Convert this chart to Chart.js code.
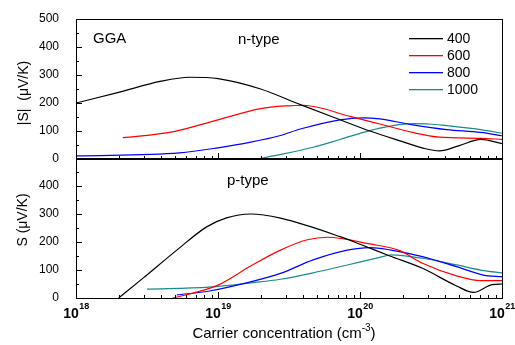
<!DOCTYPE html>
<html>
<head>
<meta charset="utf-8">
<script src="https://cdn.jsdelivr.net/npm/chart.js@4.4.0/dist/chart.umd.min.js"></script>
<style>
    body { margin: 0; background: #fff; }
    #wrap { position: relative; width: 515px; height: 345px; }
    canvas { position: absolute; left: 0; top: 0; }
</style>
</head>
<body>
<div id="wrap">
    <canvas id="nChart" width="515" height="345"></canvas>
    <canvas id="pChart" width="515" height="345"></canvas>
</div>
<script>
// temperatures (K)
const temps = ['400', '600', '800', '1000'];
const colors = ['#000000', '#ff0000', '#0000ff', '#1a8a8a'];

// carrier concentration given as log10(n), Seebeck in uV/K
// n-type
const n400x = [18.0, 18.3, 18.6, 18.8, 19.0, 19.3, 19.58, 19.86, 20.07, 20.3, 20.45, 20.56, 20.7, 20.85, 21.0];
const n400y = [200, 238, 278, 292, 287, 250, 194, 140, 100, 62, 38, 29, 48, 70, 55];
const n600x = [18.33, 18.68, 19.0, 19.3, 19.49, 19.6, 19.93, 20.14, 20.37, 20.56, 20.85, 21.0];
const n600y = [76, 97, 140, 180, 190, 192, 152, 125, 95, 78, 74, 70];
const n800x = [18.0, 18.73, 19.0, 19.23, 19.44, 19.58, 19.86, 20.02, 20.14, 20.37, 20.61, 20.85, 21.0];
const n800y = [11, 22, 40, 60, 84, 107, 140, 147, 143, 122, 105, 95, 83];
const n1000x = [19.28, 19.46, 19.67, 19.81, 19.91, 20.14, 20.37, 20.49, 20.61, 20.85, 21.0];
const n1000y = [0, 18, 42, 62, 78, 110, 126, 125, 119, 105, 92];

// p-type
const p400x = [18.3, 18.47, 18.71, 18.92, 19.06, 19.23, 19.44, 19.86, 20.0, 20.21, 20.44, 20.68, 20.8, 20.93, 21.0];
const p400y = [0, 70, 171, 254, 286, 300, 285, 219, 192, 150, 106, 43, 20, 48, 50];
const p600x = [18.68, 18.82, 19.0, 19.23, 19.44, 19.63, 19.77, 20.07, 20.28, 20.44, 20.68, 20.85, 21.0];
const p600y = [0, 17, 46, 114, 171, 208, 217, 193, 169, 124, 79, 62, 62];
const p800x = [18.71, 18.94, 19.2, 19.44, 19.67, 19.91, 20.07, 20.21, 20.44, 20.68, 20.87, 21.0];
const p800y = [11, 25, 54, 88, 136, 171, 180, 172, 148, 112, 82, 76];
const p1000x = [18.5, 18.94, 19.23, 19.44, 19.67, 19.91, 20.14, 20.22, 20.44, 20.68, 20.87, 21.0];
const p1000y = [32, 39, 54, 67, 90, 118, 145, 154, 142, 118, 98, 90];

const yTicks = [0, 100, 200, 300, 400, 500];
const xDecades = [18, 19, 20, 21];

function pts(xs, ys) {
    return xs.map((e, i) => ({ x: Math.pow(10, e), y: ys[i] }));
}

function makeSets(list) {
    return list.map((s, i) => ({
        label: temps[i],
        data: pts(s[0], s[1]),
        borderColor: colors[i],
        borderWidth: 1.2,
        pointRadius: 0,
        fill: false,
        cubicInterpolationMode: 'monotone'
    }));
}

const FONT = '"Liberation Sans", Arial, sans-serif';

// frame + inside tick marks
function drawFrame(chart) {
    const ctx = chart.ctx;
    const a = chart.chartArea;
    const xs = chart.scales.x;
    const ys = chart.scales.y;
    ctx.save();
    ctx.strokeStyle = '#000';
    ctx.lineWidth = 1;
    ctx.strokeRect(Math.round(a.left) + 0.5, Math.round(a.top) + 0.5,
        Math.round(a.right - a.left), Math.round(a.bottom - a.top));
    ctx.beginPath();
    for (let d = 18; d <= 20; d++) {
        for (let m = 1; m <= 9; m++) {
            const px = Math.round(xs.getPixelForValue(m * Math.pow(10, d))) + 0.5;
            const len = m === 1 ? 6 : 3;
            ctx.moveTo(px, a.bottom);
            ctx.lineTo(px, a.bottom - len);
        }
    }
    for (let v = 0; v <= 500; v += 50) {
        const py = Math.round(ys.getPixelForValue(v)) + 0.5;
        const len = v % 100 === 0 ? 6 : 3;
        ctx.moveTo(a.left, py);
        ctx.lineTo(a.left + len, py);
    }
    ctx.stroke();
    ctx.restore();
}

function yTitle(ctx, text, cx, cy) {
    ctx.save();
    ctx.translate(cx, cy);
    ctx.rotate(-Math.PI / 2);
    ctx.font = '14px ' + FONT;
    ctx.fillStyle = '#000';
    ctx.textAlign = 'center';
    ctx.textBaseline = 'middle';
    ctx.fillText(text, 0, 0);
    ctx.restore();
}

const topDecor = {
    id: 'topDecor',
    afterDraw(chart) {
        drawFrame(chart);
        const ctx = chart.ctx;
        ctx.save();
        ctx.fillStyle = '#000';
        ctx.textBaseline = 'middle';
        ctx.font = '15px ' + FONT;
        ctx.fillText('GGA', 93, 39);
        ctx.fillText('n-type', 238, 40);
        // legend
        ctx.font = '14px ' + FONT;
        temps.forEach((t, i) => {
            const y = 38 + i * 17;
            ctx.fillStyle = colors[i];
            ctx.fillRect(409, y, 34, 1.3);
            ctx.fillStyle = '#000';
            ctx.fillText(t, 447, y + 1);
        });
        ctx.restore();
        yTitle(ctx, '|S|  (\u03bcV/K)', 24, 93);
    }
};

const bottomDecor = {
    id: 'bottomDecor',
    afterDraw(chart) {
        drawFrame(chart);
        const ctx = chart.ctx;
        const xs = chart.scales.x;
        ctx.save();
        ctx.fillStyle = '#000';
        ctx.textBaseline = 'middle';
        ctx.font = '15px ' + FONT;
        ctx.fillText('p-type', 227, 181);
        // x tick labels 10^n
        xDecades.forEach(d => {
            const px = xs.getPixelForValue(Math.pow(10, d));
            ctx.font = 'bold 14px ' + FONT;
            const w1 = ctx.measureText('10').width;
            ctx.font = 'bold 9px ' + FONT;
            const w2 = ctx.measureText(String(d)).width;
            const x0 = px - (w1 + w2) / 2;
            ctx.font = 'bold 14px ' + FONT;
            ctx.fillText('10', x0, 314);
            ctx.font = 'bold 9px ' + FONT;
            ctx.fillText(String(d), x0 + w1 + 0.5, 307);
        });
        // x title
        ctx.font = '15px ' + FONT;
        const a = 'Carrier concentration (cm';
        const wa = ctx.measureText(a).width;
        ctx.font = '10px ' + FONT;
        const wb = ctx.measureText('-3').width;
        ctx.font = '15px ' + FONT;
        const wc = ctx.measureText(')').width;
        let x = 284 - (wa + wb + wc) / 2;
        ctx.fillText(a, x, 334);
        ctx.font = '10px ' + FONT;
        ctx.fillText('-3', x + wa, 328);
        ctx.font = '15px ' + FONT;
        ctx.fillText(')', x + wa + wb, 334);
        ctx.restore();
        yTitle(ctx, 'S (\u03bcV/K)', 23, 220);
    }
};

function makeChart(id, sets, padding, hide500, plugin) {
    return new Chart(document.getElementById(id), {
        type: 'line',
        data: { datasets: makeSets(sets) },
        options: {
            responsive: false,
            animation: false,
            layout: { padding: padding },
            plugins: { legend: { display: false }, tooltip: { enabled: false } },
            scales: {
                x: {
                    type: 'logarithmic',
                    min: 1e18,
                    max: 1e21,
                    display: false
                },
                y: {
                    min: 0,
                    max: 500,
                    afterFit: s => { s.width = 76; },
                    afterBuildTicks: s => { s.ticks = yTicks.map(v => ({ value: v })); },
                    grid: { display: false },
                    border: { display: false },
                    ticks: {
                        padding: 9,
                        color: '#000',
                        font: { family: FONT, size: 12 },
                        callback: v => (hide500 && v === 500) ? '' : String(v)
                    }
                }
            }
        },
        plugins: [plugin]
    });
}

makeChart('nChart',
    [[n400x, n400y], [n600x, n600y], [n800x, n800y], [n1000x, n1000y]],
    { left: 0, right: 13, top: 19, bottom: 186 }, false, topDecor);

makeChart('pChart',
    [[p400x, p400y], [p600x, p600y], [p800x, p800y], [p1000x, p1000y]],
    { left: 0, right: 13, top: 158, bottom: 47 }, true, bottomDecor);
</script>
</body>
</html>
